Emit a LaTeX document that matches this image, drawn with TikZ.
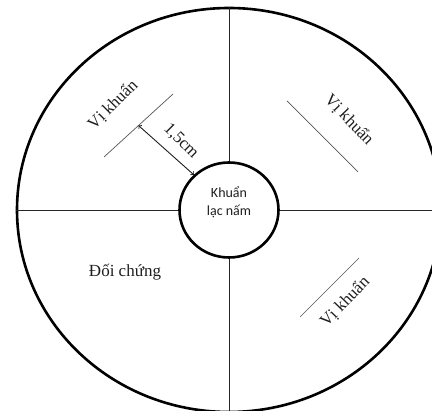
\documentclass[tikz,border=0pt]{standalone}
\usepackage{fontspec}
\setmainfont{Liberation Serif}
\newfontfamily\calibrifont{Carlito}
\usetikzlibrary{shapes.geometric}

\definecolor{streak}{HTML}{555555}
\definecolor{ink}{HTML}{1E1E1E}

\tikzset{
  rim/.style={draw=black, line width=2.6pt, ellipse, inner sep=0pt},
  divider/.style={draw=black!85, line width=0.9pt},
  bacteria/.style={draw=streak, line width=0.7pt},
  serifl/.style={text=ink, font=\fontsize{17}{19}\selectfont, inner sep=0pt},
}

\begin{document}
\begin{tikzpicture}[x=1pt, y=-1pt]

% Frame
\useasboundingbox (0,0) rectangle (432,411);
\clip (0,0) rectangle (432,411);

% Petri dish and fungus colony
\node[rim, minimum width=424pt, minimum height=404pt] (plate) at (229,210) {};
\node[rim, minimum width=99pt, minimum height=95pt] (fungus) at (229,210) {};
\node[text=ink, align=center, font=\calibrifont\fontsize{14}{18}\selectfont]
  (colony) at ([yshift=8pt]fungus.center) {Khuẩn\\lạc nấm};

% Quadrants
\draw[divider] (plate.north) -- (fungus.north);
\draw[divider] (fungus.south) -- (plate.south);
\draw[divider] (plate.west) -- (fungus.west);
\draw[divider] (fungus.east) -- (plate.east);

% Bacteria streaks
\coordinate (tlA) at (104,157);
\coordinate (tlB) at (173,94);
\coordinate (trA) at (287,101);
\coordinate (trB) at (358,172);
\coordinate (brA) at (300,317);
\coordinate (brB) at (359,258);
\draw[bacteria] (tlA) -- (tlB) coordinate[pos=0.5] (tlM);
\draw[bacteria] (trA) -- (trB);
\draw[bacteria] (brA) -- (brB);

% Distance
\draw[<->, line width=0.9pt, ink] (tlM) -- (fungus.135);
\node[serifl, rotate=-45] (dist) at (181,141) {1,5cm};

% Labels
\node[serifl, rotate=45] (tlLabel) at (113,105) {Vị khuẩn};
\node[serifl, rotate=-46] (trLabel) at (349,120) {Vị khuẩn};
\node[serifl, rotate=46] (brLabel) at (345,302) {Vị khuẩn};
\node[serifl] (control) at (125,272) {Đối chứng};

\end{tikzpicture}
\end{document}
